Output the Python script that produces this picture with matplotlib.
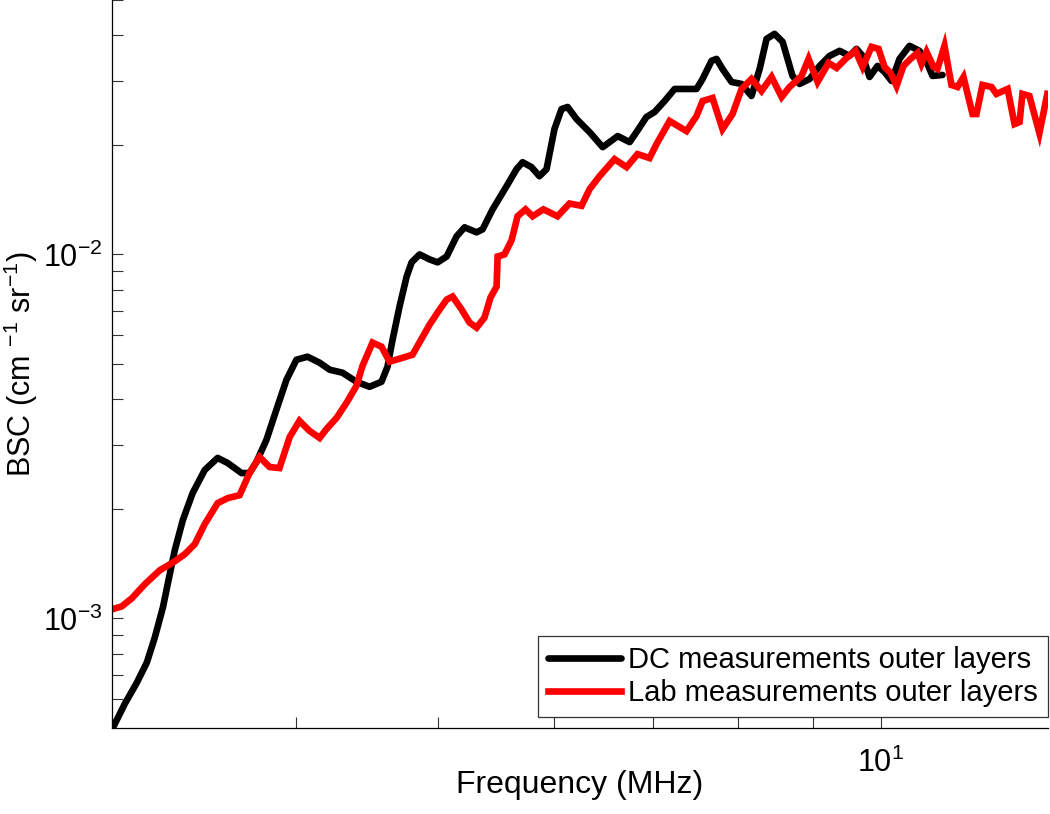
import matplotlib
matplotlib.use('Agg')
import matplotlib.pyplot as plt
from matplotlib.ticker import FixedLocator, NullFormatter, LogFormatterSciNotation

plt.rcParams['font.family'] = ['Liberation Sans', 'DejaVu Sans']
plt.rcParams['mathtext.fontset'] = 'custom'
plt.rcParams['mathtext.rm'] = 'Liberation Sans'
plt.rcParams['mathtext.it'] = 'Liberation Sans'

# ── Data ──────────────────────────────────────────────────────────────────────
dc_freq = [3.000, 3.061, 3.119, 3.168, 3.208, 3.249, 3.285, 3.310, 3.352, 3.404,
           3.469, 3.540, 3.596, 3.675, 3.721, 3.762, 3.821, 3.881, 3.943, 4.005,
           4.075, 4.153, 4.219, 4.305, 4.400, 4.491, 4.576, 4.619, 4.656, 4.707,
           4.760, 4.797, 4.857, 4.934, 4.996, 5.068, 5.147, 5.212, 5.311, 5.361,
           5.446, 5.566, 5.654, 5.708, 5.788, 5.861, 5.926, 6.000, 6.067, 6.125,
           6.212, 6.339, 6.471, 6.541, 6.625, 6.750, 6.823, 6.930, 7.019, 7.130,
           7.243, 7.379, 7.496, 7.567, 7.674, 7.734, 7.807, 7.918, 8.043, 8.170,
           8.275, 8.365, 8.470, 8.578, 8.712, 8.809, 8.949, 9.090, 9.233, 9.379,
           9.526, 9.631, 9.723, 9.829, 9.954, 10.063, 10.174, 10.302, 10.465, 10.629,
           10.747, 10.849, 11.02]
dc_bsc = [4.95e-4, 5.83e-4, 6.66e-4, 7.56e-4, 8.86e-4, 1.072e-3, 1.330e-3, 1.539e-3, 1.862e-3, 2.210e-3,
          2.557e-3, 2.760e-3, 2.673e-3, 2.508e-3, 2.508e-3, 2.691e-3, 3.093e-3, 3.741e-3, 4.525e-3, 5.136e-3,
          5.236e-3, 5.041e-3, 4.822e-3, 4.731e-3, 4.468e-3, 4.329e-3, 4.468e-3, 4.913e-3, 5.832e-3, 7.19e-3,
          8.70e-3, 9.51e-3, 1.000e-2, 9.69e-3, 9.51e-3, 9.87e-3, 1.121e-2, 1.187e-2, 1.150e-2, 1.172e-2,
          1.330e-2, 1.539e-2, 1.715e-2, 1.792e-2, 1.737e-2, 1.640e-2, 1.715e-2, 2.210e-2, 2.508e-2, 2.541e-2,
          2.354e-2, 2.168e-2, 1.971e-2, 2.035e-2, 2.114e-2, 2.035e-2, 2.168e-2, 2.385e-2, 2.462e-2, 2.639e-2,
          2.848e-2, 2.848e-2, 2.848e-2, 3.034e-2, 3.402e-2, 3.445e-2, 3.233e-2, 2.977e-2, 2.940e-2, 2.725e-2,
          3.233e-2, 3.910e-2, 4.036e-2, 3.837e-2, 3.093e-2, 2.940e-2, 3.034e-2, 3.295e-2, 3.511e-2, 3.625e-2,
          3.511e-2, 3.670e-2, 3.511e-2, 3.073e-2, 3.295e-2, 3.172e-2, 2.996e-2, 3.445e-2, 3.741e-2, 3.625e-2,
          3.380e-2, 3.093e-2, 3.112e-2]

lab_freq = [3.000, 3.046, 3.094, 3.158, 3.233, 3.310, 3.362, 3.415, 3.469, 3.540,
            3.596, 3.664, 3.721, 3.780, 3.840, 3.900, 3.963, 4.024, 4.088, 4.153,
            4.199, 4.265, 4.332, 4.400, 4.442, 4.512, 4.576, 4.634, 4.707, 4.804,
            4.934, 5.012, 5.068, 5.115, 5.188, 5.253, 5.311, 5.377, 5.428, 5.480,
            5.489, 5.548, 5.610, 5.663, 5.734, 5.798, 5.897, 6.029, 6.143, 6.260,
            6.339, 6.439, 6.592, 6.718, 6.834, 6.964, 7.040, 7.186, 7.379, 7.496,
            7.567, 7.686, 7.807, 7.931, 8.043, 8.170, 8.299, 8.431, 8.565, 8.672,
            8.837, 8.934, 9.061, 9.218, 9.335, 9.482, 9.616, 9.723, 9.860, 9.969,
            10.063, 10.158, 10.254, 10.366, 10.481, 10.597, 10.663, 10.747, 10.866, 10.933,
            11.054, 11.175, 11.281, 11.388, 11.550, 11.622, 11.732, 11.898, 11.992, 12.203,
            12.336, 12.433, 12.490, 12.627, 12.826, 12.986]
lab_bsc = [1.059e-3, 1.079e-3, 1.135e-3, 1.241e-3, 1.356e-3, 1.435e-3, 1.501e-3, 1.599e-3, 1.816e-3, 2.074e-3,
           2.140e-3, 2.181e-3, 2.508e-3, 2.778e-3, 2.606e-3, 2.589e-3, 3.152e-3, 3.489e-3, 3.275e-3, 3.132e-3,
           3.317e-3, 3.556e-3, 3.911e-3, 4.357e-3, 4.944e-3, 5.724e-3, 5.580e-3, 5.073e-3, 5.170e-3, 5.303e-3,
           6.414e-3, 7.055e-3, 7.516e-3, 7.661e-3, 7.055e-3, 6.496e-3, 6.293e-3, 6.706e-3, 7.614e-3, 8.162e-3,
           9.87e-3, 1.0e-2, 1.093e-2, 1.273e-2, 1.330e-2, 1.273e-2, 1.330e-2, 1.273e-2, 1.38e-2, 1.36e-2,
           1.510e-2, 1.640e-2, 1.827e-2, 1.737e-2, 1.886e-2, 1.84e-2, 2.009e-2, 2.325e-2, 2.182e-2, 2.400e-2,
           2.639e-2, 2.690e-2, 2.210e-2, 2.431e-2, 2.848e-2, 3.034e-2, 2.812e-2, 3.073e-2, 2.707e-2, 2.884e-2,
           3.093e-2, 3.445e-2, 2.977e-2, 3.358e-2, 3.253e-2, 3.467e-2, 3.625e-2, 3.274e-2, 3.717e-2, 3.670e-2,
           3.274e-2, 3.152e-2, 2.902e-2, 3.295e-2, 3.445e-2, 3.579e-2, 3.34e-2, 3.602e-2, 3.274e-2, 3.233e-2,
           3.741e-2, 2.921e-2, 2.884e-2, 3.07e-2, 2.431e-2, 2.431e-2, 2.921e-2, 2.884e-2, 2.760e-2, 2.848e-2,
           2.281e-2, 2.310e-2, 2.760e-2, 2.725e-2, 2.154e-2, 2.760e-2]

series_labels = ['DC measurements outer layers', 'Lab measurements outer layers']
x_label = 'Frequency (MHz)'
y_label = 'BSC (cm $^{-1}$ sr$^{-1}$)'

# ── Figure ────────────────────────────────────────────────────────────────────
fig = plt.figure(figsize=(10.5, 8.14), dpi=100)
ax = fig.add_axes([112 / 1050, 86 / 814, 936 / 1050, 728 / 814])

ax.plot(dc_freq, dc_bsc, color='black', lw=4.8, label=series_labels[0],
        solid_joinstyle='round', solid_capstyle='round')
ax.plot(lab_freq, lab_bsc, color='#ff0000', lw=4.8, label=series_labels[1],
        solid_joinstyle='miter')

ax.set_xscale('log')
ax.set_yscale('log')
ax.set_xlim(3, 13)
ax.set_ylim(5e-4, 5e-2)

# ticks
ax.xaxis.set_major_locator(FixedLocator([10]))
ax.xaxis.set_minor_locator(FixedLocator([3, 4, 5, 6, 7, 8, 9]))
ax.xaxis.set_major_formatter(LogFormatterSciNotation())
ax.xaxis.set_minor_formatter(NullFormatter())
ax.yaxis.set_major_locator(FixedLocator([1e-3, 1e-2]))
ax.yaxis.set_minor_locator(FixedLocator(
    [6e-4, 7e-4, 8e-4, 9e-4] + [k * 1e-3 for k in range(2, 10)] + [2e-2, 3e-2, 4e-2, 5e-2]))
ax.yaxis.set_major_formatter(LogFormatterSciNotation())
ax.yaxis.set_minor_formatter(NullFormatter())

ax.tick_params(which='both', direction='in', length=8, width=0.8, color='#333333')
ax.tick_params(axis='both', which='major', labelsize=22)
ax.tick_params(axis='x', which='major', pad=14)
ax.tick_params(axis='y', which='major', pad=7)

for s in ['top', 'right']:
    ax.spines[s].set_visible(False)
for s in ['left', 'bottom']:
    ax.spines[s].set_linewidth(0.9)

ax.set_xlabel(x_label, fontsize=23)
ax.xaxis.set_label_coords(0.5, -0.058)
ax.set_ylabel(y_label, fontsize=22)
ax.yaxis.set_label_coords(-0.077, 0.5)

leg = ax.legend(loc='lower right', bbox_to_anchor=(1.0, 11 / 728),
                borderaxespad=0, fontsize=21, frameon=True, fancybox=False,
                handlelength=2.5, handletextpad=0.25, borderpad=0.35,
                labelspacing=0.15)
leg.get_frame().set_edgecolor('black')
leg.get_frame().set_linewidth(0.9)

fig.savefig('out.png', dpi=100)
